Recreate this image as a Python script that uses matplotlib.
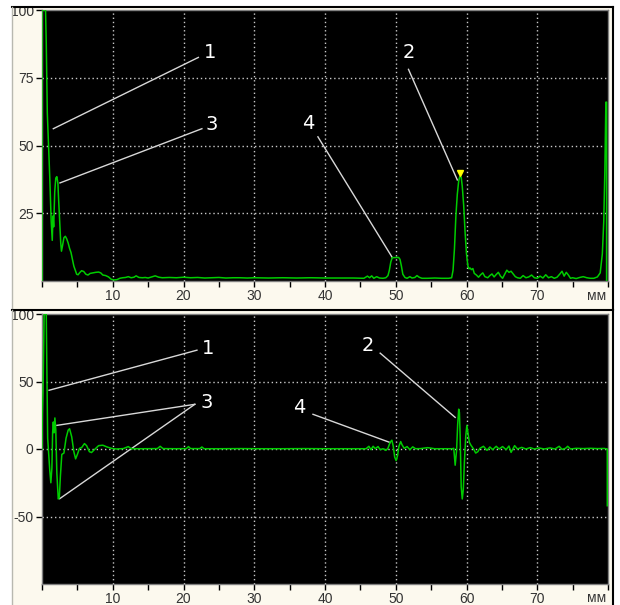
import matplotlib
matplotlib.use("Agg")
import matplotlib.pyplot as plt
from matplotlib.patches import Rectangle
from matplotlib.lines import Line2D

# ---------------- data ----------------
top_mm = [0.0, 0.0, 0.5, 0.6, 0.75, 0.9, 1.0, 1.1, 1.2, 1.3, 1.45, 1.55, 1.65, 1.8, 1.95, 2.1, 2.25, 2.35, 2.5, 2.65,
          2.75, 2.9, 3.1, 3.3, 3.5, 3.7, 3.9, 4.1, 4.3, 4.5, 4.7, 4.9, 5.1, 5.3, 5.6, 5.9, 6.2, 6.5, 6.8, 7.2,
          7.6, 8.0, 8.3, 8.6, 9.0, 9.4, 9.8, 10.2, 10.6, 11.0, 11.4, 11.8, 12.2, 12.6, 13.0, 13.3, 13.7, 14.2, 14.6, 15.0,
          15.5, 16.0, 16.5, 17.0, 18.0, 19.0, 20.0, 21.0, 22.0, 23.0, 24.0, 25.0, 26.0, 27.0, 28.0, 29.0, 30.0, 32.0, 34.0, 36.0,
          38.0, 40.0, 42.0, 44.0, 45.5, 46.0, 46.3, 46.6, 46.9, 47.3, 47.7, 48.2, 48.6, 48.9, 49.1, 49.3, 49.5, 50.4, 50.6, 50.8,
          51.0, 51.3, 51.6, 52.0, 52.3, 52.7, 53.0, 53.3, 53.7, 54.5, 55.5, 56.5, 57.5, 57.9, 58.1, 58.3, 58.5, 58.7, 58.9, 59.05,
          59.25, 59.4, 59.6, 59.8, 60.0, 60.2, 60.35, 60.5, 60.7, 60.9, 61.1, 61.4, 61.7, 62.0, 62.3, 62.6, 63.0, 63.3, 63.6, 63.9,
          64.2, 64.5, 64.8, 65.1, 65.4, 65.7, 66.0, 66.3, 66.6, 66.9, 67.2, 67.6, 68.0, 68.4, 68.8, 69.2, 69.6, 70.0, 70.4, 70.8,
          71.2, 71.6, 72.0, 72.4, 72.8, 73.2, 73.5, 73.8, 74.1, 74.4, 74.7, 75.0, 75.5, 76.0, 76.5, 77.0, 77.5, 78.0, 78.5, 78.9,
          79.2, 79.4, 79.55, 79.7, 79.8, 79.8]
top_amp = [0, 100, 100, 88, 62, 52, 45, 38, 30, 22, 15, 24, 20, 33, 38, 38.5, 36, 30, 22, 14,
           11, 13, 16, 16.5, 15.5, 14, 12, 10.5, 8, 5.5, 4, 2.5, 2.3, 3, 3.8, 3.5, 2.5, 2.2, 2.8, 3,
           3.2, 3.3, 3, 2.2, 2.0, 1.5, 0.6, 0.4, 0.5, 1.0, 1.2, 1.3, 1.6, 1.2, 1.4, 1.9, 1.3, 1.2, 1.3, 1.1,
           1.5, 1.9, 1.4, 1.2, 1.3, 1.2, 1.4, 1.2, 1.3, 1.1, 1.2, 1.3, 1.1, 1.2, 1.2, 1.1, 1.2, 1.1, 1.2, 1.1,
           1.2, 1.1, 1.1, 1.1, 1.0, 1.8, 1.2, 1.9, 1.0, 1.6, 1.1, 1.0, 1.2, 2.0, 4, 7, 8.6, 8.7, 8, 5.5,
           2.5, 1.3, 1.0, 1.6, 1.1, 1.3, 2.0, 1.4, 1.0, 1.0, 1.1, 1.0, 1.0, 1.2, 4, 12, 24, 32, 37, 38.5,
           38.3, 35, 28, 18, 10, 5.5, 4.5, 4.8, 4.2, 4.6, 2.8, 2.2, 1.4, 2.3, 3, 1.6, 1.2, 2.0, 2.6, 1.5,
           2.4, 3.2, 1.8, 1.0, 2.5, 4, 3.2, 3.6, 2.6, 1.6, 1.2, 1.0, 2.0, 1.2, 1.5, 2.2, 1.2, 1.0, 1.8, 1.1,
           2.3, 1.2, 1.6, 1.0, 1.4, 2.6, 3.6, 1.8, 3.2, 2.2, 1.0, 1.2, 0.9, 1.3, 1.6, 1.2, 1.0, 1.0, 1.5, 3,
           10, 22, 40, 66, 66, 0]

bot_mm = [0.0, 0.05, 0.15, 0.3, 0.6, 0.7, 0.8, 0.95, 1.1, 1.25, 1.4, 1.5, 1.6, 1.7, 1.82, 1.95, 2.1, 2.3, 2.45, 2.6,
          2.8, 3.1, 3.4, 3.7, 3.9, 4.2, 4.5, 4.75, 5.0, 5.3, 5.6, 6.0, 6.3, 6.7, 7.0, 7.4, 8.0, 8.6, 9.2, 9.8,
          10.5, 11.5, 12.2, 12.6, 14.0, 16.3, 16.7, 17.1, 19.0, 20.4, 20.7, 21.0, 22.3, 22.6, 22.9, 25.0, 28.0, 31.0, 34.0, 37.0,
          40.0, 43.0, 45.8, 46.2, 46.5, 46.8, 47.1, 47.5, 47.8, 48.2, 48.6, 48.9, 49.2, 49.45, 49.65, 49.85, 50.05, 50.25, 50.45, 50.7,
          50.9, 51.2, 51.6, 52.0, 52.4, 52.8, 53.5, 54.5, 55.5, 57.0, 58.0, 58.2, 58.4, 58.6, 58.75, 58.9, 59.0, 59.1, 59.25, 59.4,
          59.55, 59.7, 59.9, 60.05, 60.2, 60.4, 60.6, 61.0, 61.3, 61.6, 61.9, 62.4, 62.9, 63.3, 63.7, 64.2, 64.6, 65.1, 65.6, 66.0,
          66.3, 66.8, 67.2, 67.8, 68.4, 69.0, 69.6, 70.2, 71.0, 71.8, 72.5, 73.1, 73.5, 74.0, 74.3, 74.7, 75.5, 76.5, 77.5, 78.5,
          79.5, 79.9, 79.9]
bot_amp = [0, 26, 44, 100, 100, 51, 8, -4, -16, -25, -14, 12, 20, 12, 23, 14, -18, -37, -36, -20,
           -4, -3, 8, 14, 15, 9, -2, -7.3, -4, 0.5, 1, 4, 2.5, -2, -2.6, -0.5, 2.5, 2.8, 1.5, 0.5,
           0, 0.3, 1.8, 0.2, 0.2, 0.3, 2.0, 0.3, 0.2, 0.3, 1.8, 0.3, 0.3, 1.5, 0.2, 0.2, 0.3, 0.2, 0.2, 0.3,
           0.2, 0.2, 0.2, 2.0, -0.5, 2.0, 0.3, 1.8, -0.5, 0.2, -1.0, 0.5, 5, 6.5, 2, -6, -8.6, -5, 2, 5.5,
           3, 0.5, 1.8, -0.5, 1.6, 0.2, 0.3, 1.0, 0.2, 0.2, 0.2, 0.5, -12, -1, 18, 29.5, 27, 10, -28, -37,
           -30, -10, 10, 17.5, 12, 5, 3, 0, -3, -2, 0.5, 2, -1, 1.5, -0.5, 2, 0, 1.8, -0.5, 2.2,
           -2.5, 2.5, 0, 1.2, 0, 1.0, 0, 0.8, 0, 0.8, 0, 2.0, -0.3, 0.5, 2.0, 0, 0.5, 0.3, 0.5, 0.3,
           0.4, 0, -42]

x_ticks = [0, 5, 10, 15, 20, 25, 30, 35, 40, 45, 50, 55, 60, 65, 70, 75, 80]
x_labels = ["", "", "10", "", "20", "", "30", "", "40", "", "50", "", "60", "", "70", "", ""]
top_yticks = [25, 50, 75, 100]
bot_yticks = [-50, 0, 50, 100]
unit = "мм"

# annotations: (label, text_x, text_y, [(x_from, y_from, x_to, y_to), ...])
top_notes = [
    ("1", 23.8, 84.4, [(1.6, 56.2, 22.1, 82.5)]),
    ("3", 24.0, 57.7, [(2.55, 36.2, 22.6, 56.2)]),
    ("2", 51.8, 84.4, [(51.8, 78.1, 58.7, 37.3)]),
    ("4", 37.6, 58.0, [(39.0, 53.2, 49.5, 8.7)]),
]
bot_notes = [
    ("1", 23.5, 74.7, [(1.0, 43.5, 21.9, 73.2)]),
    ("3", 23.3, 34.6, [(2.1, 17.5, 21.6, 33.1), (2.5, -36.8, 21.6, 33.1)]),
    ("2", 46.0, 77.0, [(47.8, 71.0, 58.4, 23.4)]),
    ("4", 36.4, 30.9, [(38.3, 25.7, 49.2, 4.8)]),
]
peak_marker = (59.1, 40.0)

# ---------------- figure ----------------
W, H = 620, 605
fig = plt.figure(figsize=(W / 100, H / 100), dpi=100, facecolor="white")
plt.rcParams["font.family"] = ["Liberation Sans", "DejaVu Sans"]

def px_rect(x0, y0, x1, y1):
    return (x0 / W, 1 - y1 / H, (x1 - x0) / W, (y1 - y0) / H)

cream = "#FCF9EE"
for (y0, y1) in [(7, 309), (310, 605)]:
    l, b, w, h = px_rect(12, y0, 613, y1)
    fig.patches.append(Rectangle((l, b), w, h, transform=fig.transFigure,
                                 facecolor=cream, edgecolor="none", zorder=-5))
    fig.add_artist(Line2D([12 / W, 613 / W], [1 - y0 / H, 1 - y0 / H], transform=fig.transFigure,
                          color="black", lw=1.5))
    fig.add_artist(Line2D([12 / W, 12 / W], [1 - y0 / H, 1 - y1 / H], transform=fig.transFigure,
                          color="#B8B8B0", lw=1))
    fig.add_artist(Line2D([613 / W, 613 / W], [1 - y0 / H, 1 - y1 / H], transform=fig.transFigure,
                          color="black", lw=1.5))

ax1 = fig.add_axes(px_rect(42, 10, 608, 281))
ax2 = fig.add_axes(px_rect(42, 314, 608, 584))

green = "#00CC00"
grid_kw = dict(color="#C8C8C8", linestyle=(0, (1, 2)), linewidth=1)

def style(ax, ylim, yticks, grid_y, unit_y):
    ax.set_facecolor("black")
    ax.set_xlim(0, 80)
    ax.set_ylim(*ylim)
    ax.set_xticks(x_ticks)
    ax.set_xticklabels(x_labels)
    ax.set_yticks(yticks)
    ax.set_yticklabels([str(v) for v in yticks])
    ax.tick_params(axis="both", direction="out", length=4, width=1, color="black",
                   labelsize=10, labelcolor="#333333", pad=2)
    for s in ax.spines.values():
        s.set_color("#808080")
        s.set_linewidth(1)
    for gx in range(10, 80, 10):
        ax.axvline(gx, zorder=1, **grid_kw)
    for gy in grid_y:
        ax.axhline(gy, zorder=1, **grid_kw)
    ax.text(0.9965, unit_y, unit, transform=ax.transAxes, ha="right", va="center",
            fontsize=10, color="#333333")

style(ax1, (0, 100), top_yticks, [25, 50, 75], -0.055)
style(ax2, (-100, 100), bot_yticks, [-50, 0, 50], -0.05)

ax1.plot(top_mm, top_amp, color=green, lw=1.1, zorder=3, clip_on=True)
ax2.plot(bot_mm, bot_amp, color=green, lw=1.1, zorder=3, clip_on=True)
ax1.plot([peak_marker[0]], [peak_marker[1]], marker="v", color="#FFFF00", markersize=5, zorder=4)

for ax, notes in [(ax1, top_notes), (ax2, bot_notes)]:
    for label, tx, ty, segs in notes:
        for (xa, ya, xb, yb) in segs:
            ax.plot([xa, xb], [ya, yb], color="#D8D8D8", lw=1, zorder=2)
        ax.text(tx, ty, label, color="white", fontsize=14, ha="center", va="center",
                family=["DejaVu Sans"], zorder=5)

fig.savefig("out.png", dpi=100, facecolor="white")
